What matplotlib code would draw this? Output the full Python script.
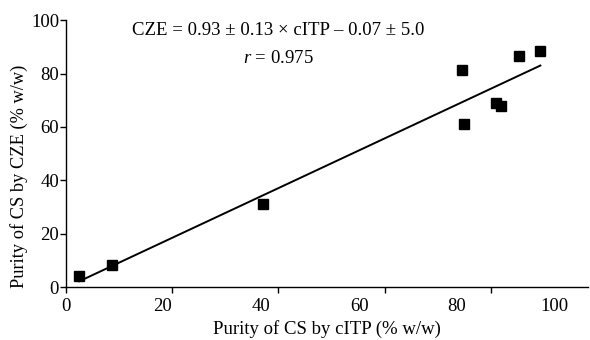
import numpy as np
import matplotlib
matplotlib.use("Agg")
import matplotlib.pyplot as plt

# datos
citp = [2.5, 8.7, 37.1, 74.5, 74.9, 80.9, 81.9, 85.2, 89.3]
cze = [4.3, 8.2, 31.2, 81.4, 61.0, 69.1, 68.0, 86.4, 88.3]
pendiente = 0.93
intercepto = -0.07

xtick_labels = ["0", "20", "40", "60", "80", "100"]

plt.rcParams['font.family'] = ['Liberation Serif', 'DejaVu Serif']
plt.rcParams['font.size'] = 13.5
plt.rcParams['mathtext.fontset'] = 'custom'
plt.rcParams['mathtext.it'] = 'Liberation Serif:italic'
plt.rcParams['mathtext.rm'] = 'Liberation Serif'

fig = plt.figure(figsize=(5.9, 3.4), dpi=100)
ax = fig.add_axes([0.1119, 0.155, 0.885, 0.786])

ax.plot(citp, cze, 's', color='black', markersize=7.5, zorder=3)

# recta de regresion
xr = np.array([min(citp), max(citp)])
ax.plot(xr, pendiente * xr + intercepto, color='black', linewidth=1.4)

ax.set_xlim(0, 98.3)
ax.set_ylim(0, 100)
ax.set_yticks([0, 20, 40, 60, 80, 100])

# marcas cada 20, etiquetas desplazadas como en el original
ax.xaxis.remove_overlapping_locs = False
ax.set_xticks([0, 20, 40, 60, 80])
ax.set_xticklabels([])
ax.set_xticks([0, 18.2, 36.8, 55.2, 73.5, 92.0], minor=True)
ax.set_xticklabels(xtick_labels, minor=True)
ax.tick_params(axis='x', which='major', direction='out', length=4, width=1)
ax.tick_params(axis='x', which='minor', length=0, pad=8)
ax.tick_params(axis='y', direction='out', length=4, width=1, pad=1)

for s in ['top', 'right']:
    ax.spines[s].set_visible(False)
for s in ['left', 'bottom']:
    ax.spines[s].set_linewidth(1)

ax.set_xlabel('Purity of CS by cITP (% w/w)', labelpad=3)
ax.set_ylabel('Purity of CS by CZE (% w/w)', fontsize=13.2)
ax.yaxis.set_label_coords(-0.073, 0.416)

ax.text(0.4067, 0.96, 'CZE = 0.93 \u00b1 0.13 \u00d7 cITP \u2013 0.07 \u00b1 5.0',
        transform=ax.transAxes, ha='center', va='center')
ax.text(0.4067, 0.855, '$r$ = 0.975', transform=ax.transAxes,
        ha='center', va='center')

fig.savefig('out.png', dpi=100)
